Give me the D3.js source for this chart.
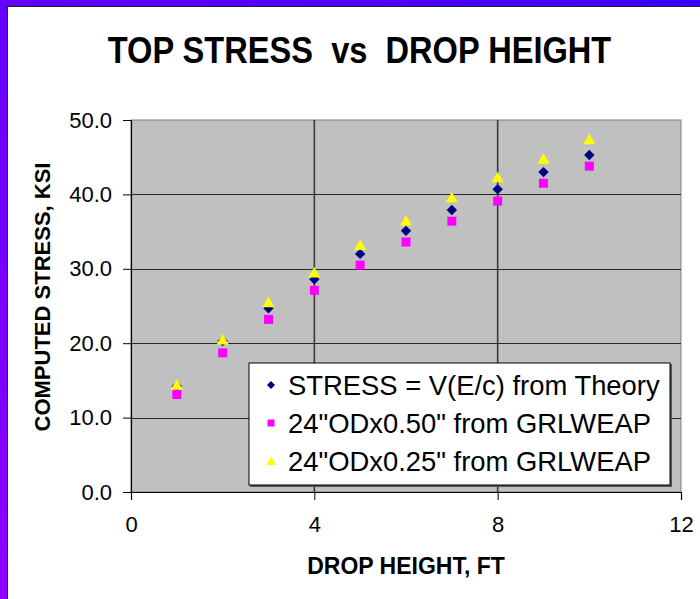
<!DOCTYPE html>
<html>
<head>
<meta charset="utf-8">
<style>
  body { margin: 0; background: #fff; }
  svg { display: block; font-family: "Liberation Sans", Arial, sans-serif; }
</style>
</head>
<body>
<script src="https://d3js.org/d3.v7.min.js"></script>
<script>
  // drop height, ft
  var heights = [1, 2, 3, 4, 5, 6, 7, 8, 9, 10];
  // computed stress, ksi
  var theory = [14.2, 20.3, 24.7, 28.6, 32.0, 35.1, 37.9, 40.7, 43.0, 45.3];
  var od050 = [13.1, 18.7, 23.2, 27.1, 30.5, 33.6, 36.4, 39.1, 41.5, 43.8];
  var od025 = [14.4, 20.5, 25.5, 29.5, 33.2, 36.5, 39.6, 42.3, 44.8, 47.4];
  var seriesNames = ['STRESS = V(E/c) from Theory', '24"ODx0.50" from GRLWEAP', '24"ODx0.25" from GRLWEAP'];
  var xTicks = [0, 4, 8, 12];
  var yTicks = [0, 10, 20, 30, 40, 50];

  var W = 700, H = 599;
  var svg = d3.select("body").append("svg").attr("width", W).attr("height", H);

  // purple frame on top and left
  var defs = svg.append("defs");
  var grad = defs.append("linearGradient").attr("id", "frame")
    .attr("x1", "100%").attr("y1", "0%").attr("x2", "0%").attr("y2", "100%");
  grad.append("stop").attr("offset", "0%").attr("stop-color", "#3a00ff");
  grad.append("stop").attr("offset", "100%").attr("stop-color", "#8f00ff");
  svg.append("rect").attr("width", W).attr("height", H).attr("fill", "url(#frame)");
  svg.append("rect").attr("x", 8).attr("y", 7).attr("width", W - 8).attr("height", H - 7).attr("fill", "#fff");
  svg.append("line").attr("x1", 7.5).attr("x2", 7.5).attr("y1", 6).attr("y2", H).attr("stroke", "#222");
  svg.append("line").attr("x1", 7).attr("x2", W).attr("y1", 6.5).attr("y2", 6.5).attr("stroke", "#222");

  var x = d3.scaleLinear().domain([0, 12]).range([131, 681]);
  var y = d3.scaleLinear().domain([0, 50]).range([492, 120]);

  // plot area
  svg.append("rect")
    .attr("x", x(0)).attr("y", y(50))
    .attr("width", x(12) - x(0)).attr("height", y(0) - y(50))
    .attr("fill", "#c0c0c0").attr("stroke", "#808080").attr("stroke-width", 1);

  // gridlines
  svg.append("g").selectAll("line").data(yTicks.filter(d => d > 0 && d < 50)).join("line")
    .attr("x1", x(0)).attr("x2", x(12))
    .attr("y1", d => Math.round(y(d)) + 0.5).attr("y2", d => Math.round(y(d)) + 0.5)
    .attr("stroke", "#2a2a2a").attr("stroke-width", 1);
  svg.append("g").selectAll("line").data(xTicks.filter(d => d > 0 && d < 12)).join("line")
    .attr("x1", d => x(d)).attr("x2", d => x(d))
    .attr("y1", y(50)).attr("y2", y(0))
    .attr("stroke", "#3a3a3a").attr("stroke-width", 1.6);

  // axes
  var xAxis = svg.append("g").attr("transform", "translate(0," + y(0) + ")")
    .call(d3.axisBottom(x).tickValues(xTicks).tickSize(8).tickPadding(16).tickFormat(d3.format("d")));
  var yAxis = svg.append("g").attr("transform", "translate(" + x(0) + ",0)")
    .call(d3.axisLeft(y).tickValues(yTicks).tickSize(8).tickPadding(11).tickFormat(d3.format(".1f")));
  [xAxis, yAxis].forEach(function(a) {
    a.select(".domain").attr("stroke", "#000").attr("stroke-width", 1.2);
    a.selectAll(".tick line").attr("stroke", "#000");
    a.selectAll(".tick text").attr("font-size", 22).attr("fill", "#000")
      .attr("font-family", "Liberation Sans, Arial, sans-serif");
  });

  // markers
  function diamond(s) { return "M0," + (-s) + "L" + s + ",0L0," + s + "L" + (-s) + ",0Z"; }
  function square(s) { return "M" + (-s) + "," + (-s) + "H" + s + "V" + s + "H" + (-s) + "Z"; }
  function triangle(s) { return "M0," + (-s) + "L" + (s * 1.1) + "," + (s * 0.9) + "L" + (-s * 1.1) + "," + (s * 0.9) + "Z"; }

  var series = [
    { values: theory, color: "#000080", shape: diamond, size: 5.2, lsize: 4 },
    { values: od050, color: "#ff00ff", shape: square, size: 4.5, lsize: 3.5 },
    { values: od025, color: "#ffff00", shape: triangle, size: 5.5, lsize: 4.5 }
  ];

  series.forEach(function(s) {
    svg.append("g").selectAll("path").data(heights).join("path")
      .attr("transform", (d, i) => "translate(" + x(d) + "," + y(s.values[i]) + ")")
      .attr("d", s.shape(s.size))
      .attr("fill", s.color);
  });

  // legend
  var lg = svg.append("g").attr("transform", "translate(249,363)");
  lg.append("rect").attr("x", 1).attr("y", 1).attr("width", 422).attr("height", 123).attr("fill", "#555");
  lg.append("rect").attr("width", 421).attr("height", 122).attr("fill", "#fff").attr("stroke", "#000").attr("stroke-width", 1);
  series.forEach(function(s, i) {
    var cy = 22 + i * 38;
    lg.append("path").attr("transform", "translate(22," + cy + ")").attr("d", s.shape(s.lsize)).attr("fill", s.color);
    lg.append("text").attr("x", 39).attr("y", cy + 9.5).attr("font-size", 27.4).attr("fill", "#000").text(seriesNames[i]);
  });

  // titles
  svg.append("text").attr("transform", "translate(359.5,63) scale(1,1.15)").attr("text-anchor", "middle")
    .attr("font-size", 32.6).attr("font-weight", "bold").text("TOP STRESS  vs  DROP HEIGHT")
    .attr("xml:space", "preserve").style("white-space", "pre");
  svg.append("text").attr("x", x(6)).attr("y", 574).attr("text-anchor", "middle")
    .attr("font-size", 23).attr("font-weight", "bold").text("DROP HEIGHT, FT");
  svg.append("text").attr("transform", "translate(50,297) rotate(-90)").attr("text-anchor", "middle")
    .attr("font-size", 22).attr("font-weight", "bold").text("COMPUTED STRESS, KSI");
</script>
</body>
</html>
